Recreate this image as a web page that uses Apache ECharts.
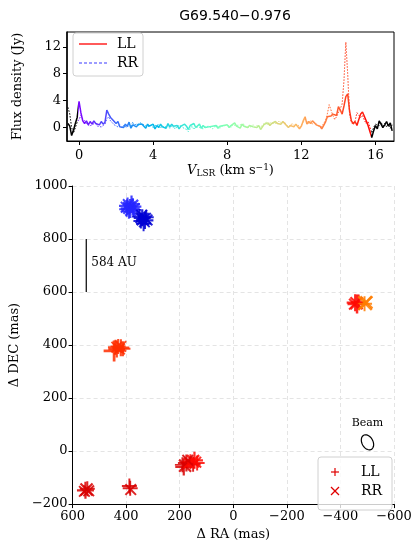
<!DOCTYPE html>
<html><head><meta charset="utf-8">
<script src="https://cdn.jsdelivr.net/npm/echarts@6/dist/echarts.min.js"></script>
<style>html,body{margin:0;padding:0;background:#fff}#c{width:415px;height:546px}</style>
</head><body><div id="c"></div>
<script>
// ---------- Spectrum (top panel) ----------
var velocity = [-0.6,-0.5,-0.4,-0.3,-0.2,-0.1,0.0,0.1,0.2,0.3,0.4,0.5,0.6,0.7,0.8,0.9,1.0,1.1,1.2,1.3,1.4,1.5,1.6,1.7,1.8,1.9,2.0,2.1,2.2,2.3,2.4,2.5,2.6,2.7,2.8,2.9,3.0,3.1,3.2,3.3,3.4,3.5,3.6,3.7,3.8,3.9,4.0,4.1,4.2,4.3,4.4,4.5,4.6,4.7,4.8,4.9,5.0,5.1,5.2,5.3,5.4,5.5,5.6,5.7,5.8,5.9,6.0,6.1,6.2,6.3,6.4,6.5,6.6,6.7,6.8,6.9,7.0,7.1,7.2,7.3,7.4,7.5,7.6,7.7,7.8,7.9,8.0,8.1,8.2,8.3,8.4,8.5,8.6,8.7,8.8,8.9,9.0,9.1,9.2,9.3,9.4,9.5,9.6,9.7,9.8,9.9,10.0,10.1,10.2,10.3,10.4,10.5,10.6,10.7,10.8,10.9,11.0,11.1,11.2,11.3,11.4,11.5,11.6,11.7,11.8,11.9,12.0,12.1,12.2,12.3,12.4,12.5,12.6,12.7,12.8,12.9,13.0,13.1,13.2,13.3,13.4,13.5,13.6,13.7,13.8,13.9,14.0,14.1,14.2,14.3,14.4,14.5,14.6,14.7,14.8,14.9,15.0,15.1,15.2,15.3,15.4,15.5,15.6,15.7,15.8,15.9,16.0,16.1,16.2,16.3,16.4,16.5,16.6,16.7,16.8,16.9];
var fluxLL = [0.6,0.2,-1.2,-0.4,0.6,1.5,3.9,2.2,1.0,0.6,1.0,0.4,0.9,0.5,1.0,0.6,0.8,0.4,0.9,0.5,0.8,2.6,2.0,1.5,1.6,0.9,0.6,0.9,0.1,0.3,0.0,0.5,0.2,0.8,-0.1,0.4,0.6,0.1,0.5,0.3,0.5,0.3,-0.1,0.5,0.2,0.0,0.5,-0.2,0.3,0.0,0.5,0.1,0.2,-0.1,0.6,0.1,0.5,0.2,0.0,0.3,-0.2,0.2,0.1,0.5,0.2,-0.3,0.3,0.1,0.6,0.0,0.2,0.5,-0.1,0.3,0.0,-0.2,0.1,-0.1,0.2,0.0,0.3,-0.1,0.2,0.0,0.3,0.1,0.4,0.0,0.3,0.2,0.7,0.2,0.4,-0.1,0.5,0.2,0.4,0.0,0.3,0.5,0.1,0.3,0.0,0.3,-0.3,0.1,0.5,0.4,0.7,0.3,0.6,0.5,0.9,0.6,0.8,0.5,0.9,0.6,0.4,0.0,0.3,0.4,0.1,0.5,0.3,-0.2,0.2,1.0,1.6,0.5,0.9,0.6,1.0,0.7,0.4,0.6,0.2,-0.2,0.3,0.8,1.6,1.8,1.7,2.0,2.1,1.8,3.1,2.6,2.0,3.2,4.6,5.0,2.5,1.0,0.6,0.9,0.3,1.2,2.0,2.3,2.1,1.0,0.3,-0.6,-1.5,-0.5,0.3,-0.2,1.0,0.5,0.0,0.4,0.9,0.2,0.7,-0.5];
var fluxRR = [3.0,2.0,0.0,-0.8,0.0,0.8,1.2,1.8,1.3,1.0,0.6,0.5,0.2,0.5,0.3,0.6,0.2,0.4,0.1,0.3,0.5,1.3,1.6,1.0,0.7,0.4,0.3,0.1,0.4,0.0,0.3,0.2,0.0,0.5,0.2,0.8,0.3,0.6,0.2,0.7,0.9,0.4,0.6,0.1,0.3,0.4,0.0,0.3,0.1,0.4,-0.1,0.3,0.0,0.2,0.3,-0.1,0.2,0.3,-0.2,0.2,0.0,0.3,0.0,0.2,-0.3,-0.6,-0.2,0.2,-0.3,0.1,0.3,0.0,0.2,-0.2,0.1,-0.1,0.2,0.0,-0.2,0.1,0.0,0.2,-0.1,0.2,0.0,0.3,0.1,0.3,0.0,0.4,0.5,0.3,0.1,0.4,0.2,0.5,0.1,0.3,0.0,0.2,0.4,0.0,0.3,0.1,0.0,0.4,0.6,0.8,0.4,0.7,0.5,0.6,0.4,0.7,1.0,0.7,0.5,0.8,0.3,0.5,0.2,0.6,0.3,0.2,0.5,0.0,0.4,0.8,1.2,0.9,0.6,1.0,0.5,0.8,0.6,0.3,0.5,0.1,0.6,1.0,2.0,3.4,3.2,1.8,1.2,1.6,1.5,2.8,3.5,7.0,12.7,8.0,2.0,0.8,0.4,1.0,2.2,2.0,1.5,1.8,1.1,0.6,0.9,0.1,-0.8,0.0,0.5,0.6,0.3,0.8,0.2,0.6,0.1,0.5,-0.1,0.4];
var specTicksX = [0,4,8,12,16];
var specTicksY = [0,4,8,12];
var colourRange = [-0.05, 15.75];   // velocity range coloured by the rainbow map

// ---------- Maser spots (bottom panel) ----------
var llRA   = [395,385,375,390,372,380,398, 340,330,345,325,335,350, 420,435,445,430,440,412, -455,-462,-468, -490, 185,175,160,145,135,150,190, 552,545, 385,388];
var llDEC  = [925,915,922,905,910,932,912, 880,870,868,882,858,885, 390,385,378,395,392,386, 560,555,562, 556, -60,-45,-40,-35,-45,-50,-52, -148,-142, -140,-132];
var llVel  = [0.0,0.0,0.1,-0.1,0.0,0.1,0.0, 1.6,1.5,1.6,1.5,1.7,1.5, 13.6,13.7,13.5,13.8,13.6,13.6, 14.4,14.5,14.4, 12.2, 15.3,15.2,14.8,14.0,14.1,15.0,15.4, 15.5,15.5, 15.4,15.3];
var llFlux = [3,4,3,2,2,3,2, 3,3,2,2,2,2, 3,3,5,2,2,2, 3,4,2, 2, 3,3,2,3,2,2,2, 3,2, 2,2];
var rrRA   = [388,378,370,392,383,400, 338,328,345,332,322,342, 425,435,420, -460,-452, -492,-497, 180,165,150,140,170, 548,540,556, 383];
var rrDEC  = [918,925,915,930,908,920, 875,878,880,865,872,890, 385,392,395, 558,554, 558,561, -55,-45,-38,-42,-35, -145,-150,-152, -145];
var rrVel  = [0.1,0.0,0.0,0.1,0.0,-0.1, 1.6,1.5,1.6,1.5,1.6,1.7, 13.6,13.5,13.7, 14.4,14.4, 12.2,12.3, 15.3,14.9,14.2,14.0,15.1, 15.5,15.6,15.5, 15.4];
var rrFlux = [3,3,2,2,2,2, 3,2,2,2,2,2, 2,2,2, 3,2, 4,3, 3,2,3,2,2, 3,2,2, 2];
var scaleBar = [[549,600],[549,800]];
var scaleLabel = '584 AU';
var beamCenter = [-501, 33];

var serif = 'DejaVu Serif';
function zip(a,b){var o=[];for(var i=0;i<a.length;i++)o.push([a[i],b[i]]);return o;}
function zip4(a,b,c,d){var o=[];for(var i=0;i<a.length;i++)o.push([a[i],b[i],c[i],d[i]]);return o;}
function fmt(v){return String(v).replace('-', '\u2212');}

// matplotlib "rainbow" colormap as a function (style only)
function rainbowCol(x, a){
  var r = Math.min(1, Math.abs(2*x - 0.5)), g = Math.sin(Math.PI*x), b = Math.cos(Math.PI*x/2);
  return 'rgba('+Math.round(r*255)+','+Math.round(g*255)+','+Math.round(Math.max(0,b)*255)+','+a+')';
}
function rainbowPieces(a){
  var p = [{lt: colourRange[0], color: 'rgba(0,0,0,'+a+')'}];
  var n = 40, w = (colourRange[1]-colourRange[0])/n;
  for (var i = 0; i < n; i++) {
    p.push({gte: colourRange[0]+i*w, lt: colourRange[0]+(i+1)*w, color: rainbowCol((i+0.5)/n, a)});
  }
  p.push({gte: colourRange[1], color: 'rgba(0,0,0,'+a+')'});
  return p;
}

var plusPath = 'path://M-1.3,-10 L1.3,-10 L1.3,-1.3 L10,-1.3 L10,1.3 L1.3,1.3 L1.3,10 L-1.3,10 L-1.3,1.3 L-10,1.3 L-10,-1.3 L-1.3,-1.3 Z';

var chart = echarts.init(document.getElementById('c'), null, {renderer:'canvas'});
var axLabel = {fontFamily: serif, fontSize: 13, color: '#000', formatter: fmt};

var option = {
  animation: false,
  backgroundColor: '#fff',
  title: {text: 'G69.540\u22120.976', left: 230, textAlign: 'center', top: 4,
    textStyle: {fontFamily: 'DejaVu Sans', fontSize: 14, fontWeight: 'normal', color: '#000'}},
  grid: [
    {left: 67, top: 32, width: 327, height: 109, show: true, borderColor: '#000', borderWidth: 1, backgroundColor: 'transparent'},
    {left: 67, top: 186, width: 327, height: 329}
  ],
  xAxis: [
    {gridIndex: 0, type: 'value', min: -0.65, max: 17,
     name: '{i|V}{s|LSR} (km s{p|\u22121})', nameLocation: 'middle', nameGap: 22,
     nameTextStyle: {fontFamily: serif, fontSize: 13, color: '#000',
       rich: {i: {fontFamily: serif, fontStyle: 'italic', fontSize: 13}, s: {fontFamily: serif, fontSize: 9, verticalAlign: 'bottom', padding:[6,0,0,0]}, p: {fontFamily: serif, fontSize: 9, verticalAlign: 'top', padding:[0,0,6,0]}}},
     axisLine: {show: true, onZero: false, lineStyle: {color: '#000'}},
     axisTick: {show: true, inside: false, length: 4, customValues: specTicksX, lineStyle: {color: '#000'}},
     axisLabel: Object.assign({customValues: specTicksX, margin: 8}, axLabel),
     splitLine: {show: false}},
    {gridIndex: 1, type: 'value', min: -600, max: 600, interval: 200, inverse: true,
     name: '\u0394 RA (mas)', nameLocation: 'middle', nameGap: 20,
     nameTextStyle: {fontFamily: serif, fontSize: 13, color: '#000'},
     axisLine: {show: true, onZero: false, lineStyle: {color: '#000'}},
     axisTick: {show: true, length: 4, lineStyle: {color: '#000'}},
     axisLabel: Object.assign({margin: 6, showMinLabel: true, showMaxLabel: true}, axLabel),
     splitLine: {show: true, lineStyle: {color: '#e4e4e4', type: [4,3], width: 1}}}
  ],
  yAxis: [
    {gridIndex: 0, type: 'value', min: -2, max: 14.2,
     name: 'Flux density (Jy)', nameLocation: 'middle', nameGap: 43,
     nameTextStyle: {fontFamily: serif, fontSize: 13, color: '#000'},
     axisLine: {show: true, onZero: false, lineStyle: {color: '#000', width: 1.5}},
     axisTick: {show: true, length: 4, customValues: specTicksY, lineStyle: {color: '#000'}},
     axisLabel: Object.assign({customValues: specTicksY, margin: 6}, axLabel),
     splitLine: {show: false}},
    {gridIndex: 1, type: 'value', min: -200, max: 1000, interval: 200,
     name: '\u0394 DEC (mas)', nameLocation: 'middle', nameGap: 42,
     nameTextStyle: {fontFamily: serif, fontSize: 13, color: '#000'},
     axisLine: {show: true, onZero: false, lineStyle: {color: '#000'}},
     axisTick: {show: true, length: 4, lineStyle: {color: '#000'}},
     axisLabel: Object.assign({margin: 5}, axLabel),
     splitLine: {show: true, lineStyle: {color: '#e4e4e4', type: [4,3], width: 1}}}
  ],
  visualMap: [
    {type: 'piecewise', show: false, seriesIndex: 0, dimension: 0, pieces: rainbowPieces(0.6)},
    {type: 'piecewise', show: false, seriesIndex: 1, dimension: 0, pieces: rainbowPieces(1)},
    {type: 'piecewise', show: false, seriesIndex: [2,3], dimension: 2,
     pieces: [
       {lt: 0.8, color: '#2626ff'},
       {gte: 0.8, lt: 5, color: '#0000d4'},
       {gte: 5, lt: 13, color: '#ff7d00'},
       {gte: 13, lt: 14, color: '#ff2e00'},
       {gte: 14, lt: 15, color: '#ff0800'},
       {gte: 15, lt: 20, color: '#d80000'}
     ]}
  ],
  series: [
    {name: 'RR', type: 'line', xAxisIndex: 0, yAxisIndex: 0, data: zip(velocity, fluxRR), showSymbol: false, z: 2,
     lineStyle: {width: 1, type: [1.5,1.5]}},
    {name: 'LL', type: 'line', xAxisIndex: 0, yAxisIndex: 0, data: zip(velocity, fluxLL), showSymbol: false, z: 3,
     lineStyle: {width: 1.5}},
    {name: 'LL spots', type: 'scatter', xAxisIndex: 1, yAxisIndex: 1, data: zip4(llRA, llDEC, llVel, llFlux),
     symbol: plusPath, symbolSize: function(d){return 11 + d[3]*2;}, itemStyle: {opacity: 0.85}, z: 4},
    {name: 'RR spots', type: 'scatter', xAxisIndex: 1, yAxisIndex: 1, data: zip4(rrRA, rrDEC, rrVel, rrFlux),
     symbol: plusPath, symbolRotate: 45, symbolSize: function(d){return 11 + d[3]*2;}, itemStyle: {opacity: 0.85}, z: 4},
    {name: 'scale', type: 'line', xAxisIndex: 1, yAxisIndex: 1, data: scaleBar, showSymbol: false, silent: true,
     lineStyle: {color: '#000', width: 1.2}, z: 5}
  ]
};
chart.setOption(option);

var lblPos = chart.convertToPixel({xAxisIndex: 1, yAxisIndex: 1}, [530, 708]);
var beamPx = chart.convertToPixel({xAxisIndex: 1, yAxisIndex: 1}, beamCenter);
var ell = [];
var rx = 5.5, ry = 8, rot = -0.5;
for (var k = 0; k < 48; k++) {
  var t = k / 48 * Math.PI * 2;
  var ex = rx * Math.cos(t), ey = ry * Math.sin(t);
  ell.push([beamPx[0] + ex*Math.cos(rot) - ey*Math.sin(rot), beamPx[1] + ex*Math.sin(rot) + ey*Math.cos(rot)]);
}
var legText = {fontFamily: serif, fontSize: 14, fill: '#000'};
chart.setOption({graphic: [
  {type: 'text', left: lblPos[0], top: lblPos[1]-7, style: {text: scaleLabel, fontFamily: serif, fontSize: 12, fill: '#000'}},
  {type: 'polygon', shape: {points: ell}, style: {fill: 'none', stroke: '#000', lineWidth: 1.2}, z: 10},
  {type: 'text', x: beamPx[0], y: beamPx[1]-25, style: {text: 'Beam', fontFamily: serif, fontSize: 11, fill: '#000', align: 'center'}},
  {type: 'rect', shape: {x: 73, y: 33, width: 70, height: 43, r: 3}, style: {fill: 'rgba(255,255,255,0.8)', stroke: '#d0d0d0', lineWidth: 1}, z: 20},
  {type: 'line', shape: {x1: 79, y1: 44, x2: 107, y2: 44}, style: {stroke: '#ff0000', lineWidth: 1.3}, z: 21},
  {type: 'text', x: 117, y: 44, style: Object.assign({text: 'LL', verticalAlign: 'middle'}, legText), z: 21},
  {type: 'line', shape: {x1: 79, y1: 63, x2: 107, y2: 63}, style: {stroke: '#3a3aff', lineWidth: 1.2, lineDash: [3,2]}, z: 21},
  {type: 'text', x: 117, y: 63, style: Object.assign({text: 'RR', verticalAlign: 'middle'}, legText), z: 21},
  {type: 'rect', shape: {x: 318, y: 457, width: 74, height: 53, r: 3}, style: {fill: 'rgba(255,255,255,0.8)', stroke: '#d0d0d0', lineWidth: 1}, z: 20},
  {type: 'line', shape: {x1: 331, y1: 472, x2: 339, y2: 472}, style: {stroke: '#e00000', lineWidth: 1.2}, z: 21},
  {type: 'line', shape: {x1: 335, y1: 468, x2: 335, y2: 476}, style: {stroke: '#e00000', lineWidth: 1.2}, z: 21},
  {type: 'text', x: 361, y: 472, style: Object.assign({text: 'LL', verticalAlign: 'middle'}, legText), z: 21},
  {type: 'line', shape: {x1: 331, y1: 487, x2: 339, y2: 495}, style: {stroke: '#e00000', lineWidth: 1.2}, z: 21},
  {type: 'line', shape: {x1: 331, y1: 495, x2: 339, y2: 487}, style: {stroke: '#e00000', lineWidth: 1.2}, z: 21},
  {type: 'text', x: 361, y: 491, style: Object.assign({text: 'RR', verticalAlign: 'middle'}, legText), z: 21}
]});
</script>
</body></html>
